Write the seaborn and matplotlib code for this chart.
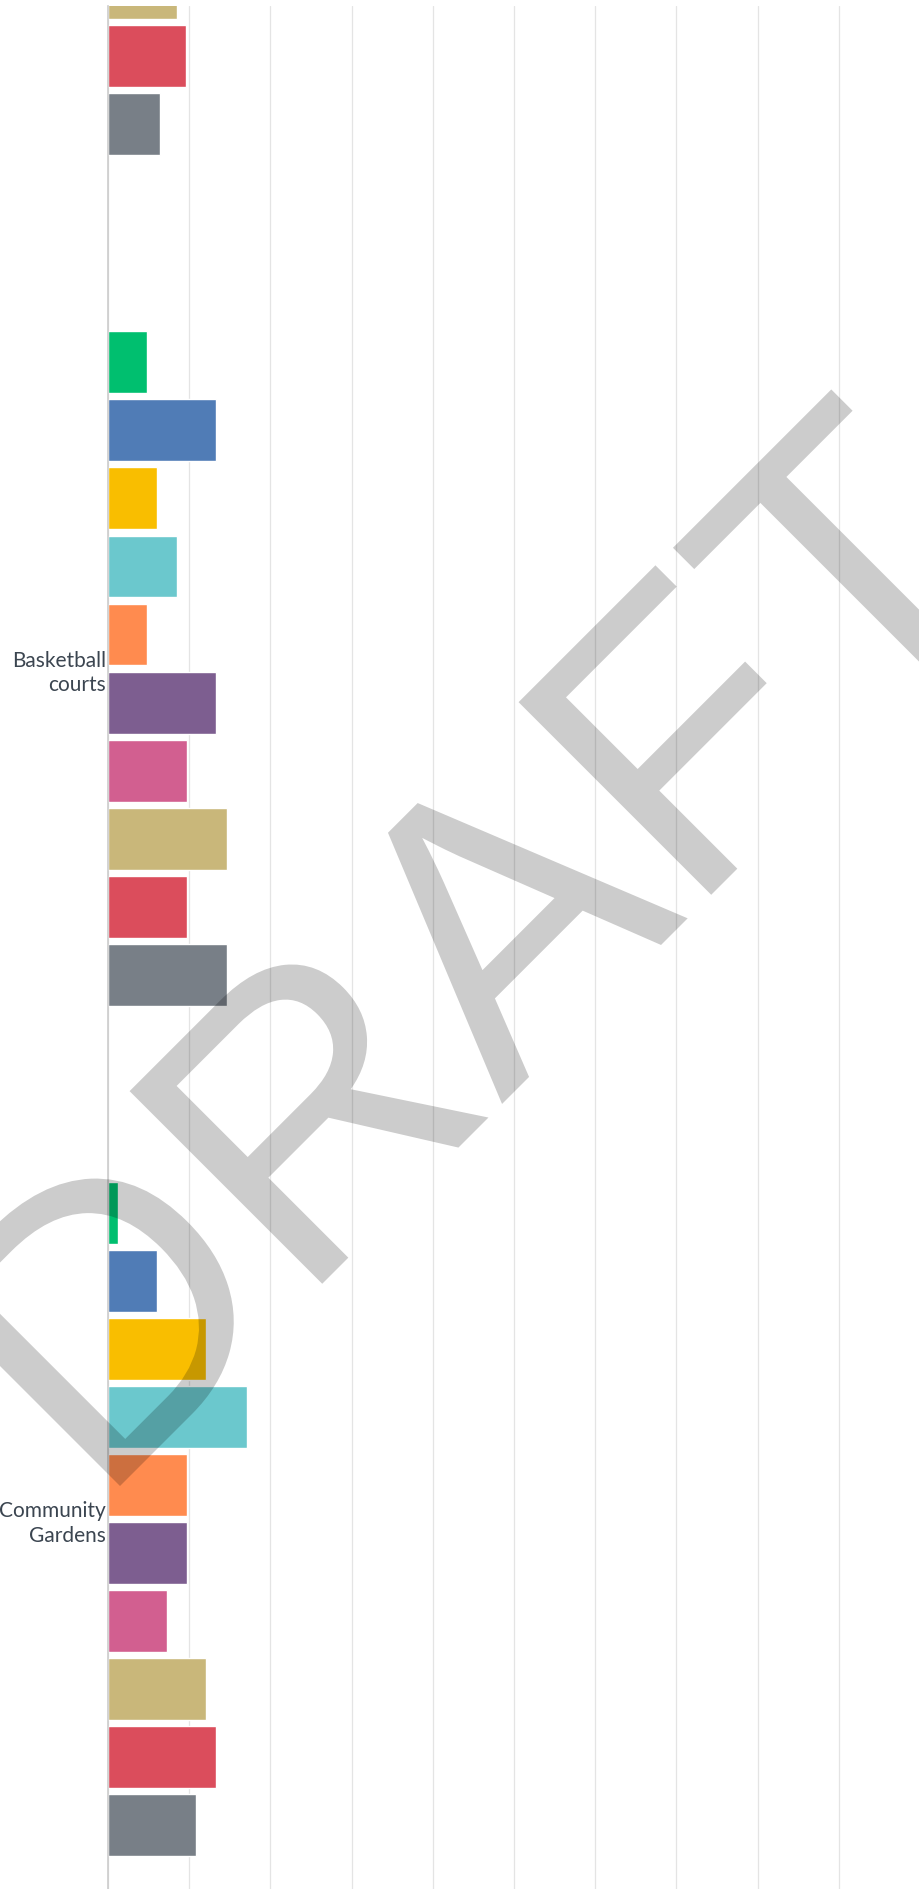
import numpy as np
import pandas as pd
import matplotlib
matplotlib.use("Agg")
import matplotlib.pyplot as plt
import seaborn as sns
from matplotlib.path import Path
from matplotlib.textpath import TextPath
from matplotlib.font_manager import FontProperties
from matplotlib.patches import PathPatch
from matplotlib.transforms import Affine2D

# --- data -------------------------------------------------------------
amenities = ["Playgrounds", "Basketball\ncourts", "Community\nGardens"]
groups = ["Group A", "Group B", "Group C", "Group D", "Group E",
          "Group F", "Group G", "Group H", "Group I", "Group J"]
colors = ["#00BF6F", "#507CB6", "#F9BE00", "#6BC8CD", "#FF8B4F",
          "#7D5E90", "#D25F90", "#C9B77A", "#DB4D5C", "#787F87"]

# share of respondents (%), one list per amenity, in group order
playgrounds = [None, None, None, None, None, None, None, 8.5, 9.6, 6.4]
basketball = [4.8, 13.3, 6.0, 8.5, 4.8, 13.3, 9.7, 14.7, 9.7, 14.7]
gardens = [1.2, 6.0, 12.1, 17.1, 9.7, 9.7, 7.3, 12.1, 13.3, 10.8]

rows = []
for name, vals in zip(amenities, [playgrounds, basketball, gardens]):
    for g, v in zip(groups, vals):
        if v is not None:
            rows.append({"amenity": name, "group": g, "pct": v})
df = pd.DataFrame(rows)

# --- figure -----------------------------------------------------------
W, H = 920, 1889
DPI = 100
sns.set_theme(style="white")
plt.rcParams["font.family"] = ["Lato", "DejaVu Sans"]

fig = plt.figure(figsize=(W / DPI, H / DPI), dpi=DPI)
ax = fig.add_axes([108 / W, 0, (920 - 108) / W, (H - 6) / H])

sns.barplot(data=df, y="amenity", x="pct", hue="group", orient="h",
            order=amenities, hue_order=groups, palette=colors,
            saturation=1, errorbar=None, width=0.8, gap=0.09,
            legend=False, ax=ax)

ax.set_xlim(0, 100)
ax.set_ylim(2.435, 0.221)
ax.set_xticks(np.arange(0, 100, 10))
ax.set_xticklabels([])
ax.set_xlabel("")
ax.set_ylabel("")
ax.set_axisbelow(True)
ax.grid(axis="x", color="#e4e4e4", linewidth=0.9)
ax.grid(axis="y", visible=False)
for side in ["top", "right", "bottom"]:
    ax.spines[side].set_visible(False)
ax.spines["left"].set_color("#cccccc")
ax.spines["left"].set_linewidth(1.2)
ax.tick_params(axis="y", length=0, pad=1.5, labelsize=15,
               labelcolor="#3b4550")
ax.tick_params(axis="x", length=0)
for lbl in ax.get_yticklabels():
    lbl.set_linespacing(1.3)

# --- DRAFT watermark ----------------------------------------------------
fp = FontProperties(family="Liberation Sans")
tp = TextPath((0, 0), "DRAFT", size=396, prop=fp)
real = tp.codes != Path.CLOSEPOLY
xmin = tp.vertices[real, 0].min()
mark_tf = (Affine2D().translate(-xmin, 0).rotate_deg(45)
           .translate(120, H - 1486))
fig.add_artist(PathPatch(tp, transform=mark_tf, facecolor="black",
                         edgecolor="none", alpha=0.2, zorder=10))

fig.savefig("out.png", dpi=DPI)
